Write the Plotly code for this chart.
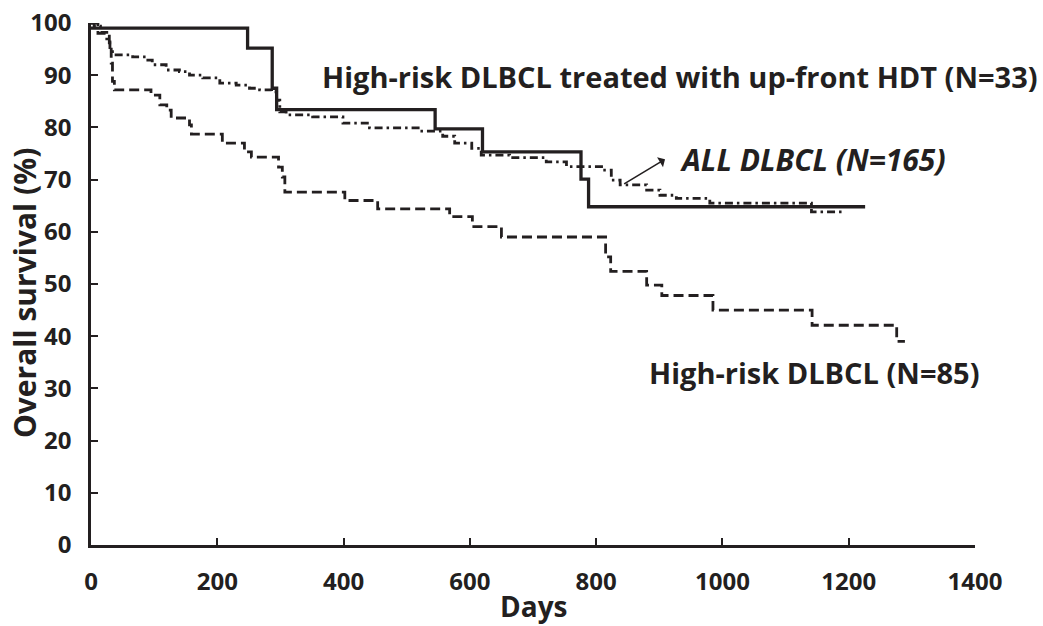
import plotly.graph_objects as go

# Kaplan-Meier step data (days, overall survival %)
hdt_days = [0, 248, 287, 294, 545, 620, 776, 788, 1226]
hdt_surv = [99.0, 95.2, 87.5, 83.4, 79.7, 75.3, 70.1, 64.8, 64.8]

high_days = [0, 11, 29, 32, 34, 37, 95, 109, 120, 127, 156, 159, 208, 243, 254,
             297, 303, 307, 402, 454, 568, 604, 650, 815, 823, 880, 904, 985,
             1142, 1276, 1289]
high_surv = [100, 98.0, 96.2, 92.3, 88.8, 87.2, 86.2, 84.3, 83.3, 81.8, 80.5, 78.7,
             77.0, 75.3, 74.3, 72.4, 70.5, 67.6, 66.0, 64.4, 62.9, 61.0, 59.0,
             55.2, 52.4, 49.8, 47.8, 45.0, 42.1, 39.0, 39.0]

all_days = [0, 5, 15, 25, 30, 34, 66, 87, 97, 119, 140, 156, 177, 204, 230, 251,
            267, 286, 294, 299, 309, 351, 399, 441, 521, 557, 576, 603, 618, 663,
            721, 753, 811, 824, 838, 880, 901, 927, 980, 1141, 1189]
all_surv = [100, 99.4, 98.2, 96.4, 94.5, 93.9, 93.5, 92.9, 92.0, 91.0, 90.7, 90.0,
            89.5, 88.5, 88.1, 87.5, 87.2, 86.8, 85.2, 83.0, 82.4, 82.0, 80.8, 79.9,
            79.3, 78.3, 77.0, 76.0, 74.7, 74.2, 73.4, 72.5, 71.8, 69.9, 69.0, 68.0,
            67.0, 66.4, 65.5, 63.8, 63.8]

x_ticks = [0, 200, 400, 600, 800, 1000, 1200, 1400]
y_ticks = [0, 10, 20, 30, 40, 50, 60, 70, 80, 90, 100]

INK = "#231f20"
FONT = "Open Sans"

fig = go.Figure()
fig.add_trace(go.Scatter(x=high_days, y=high_surv, mode="lines", line_shape="hv",
                         line=dict(color=INK, width=2.8, dash="10px,5px")))
fig.add_trace(go.Scatter(x=all_days, y=all_surv, mode="lines", line_shape="hv",
                         line=dict(color=INK, width=2.8, dash="8px,4px,2.5px,4px")))
fig.add_trace(go.Scatter(x=hdt_days, y=hdt_surv, mode="lines", line_shape="hv",
                         line=dict(color=INK, width=3.3)))

axis_common = dict(showline=True, linecolor=INK, linewidth=2.6, ticks="inside",
                   ticklen=7, tickwidth=1.5, tickcolor=INK, showgrid=False,
                   zeroline=False, mirror=False, automargin=False,
                   tickfont=dict(family=FONT, size=24, color=INK, weight="bold"))

fig.update_xaxes(range=[0, 1400], tickvals=x_ticks, ticklabelstandoff=13, **axis_common)
fig.update_yaxes(range=[0, 100], tickvals=y_ticks, ticklabelstandoff=12, **axis_common)

fig.add_annotation(x=362, y=89.7, xref="x", yref="y", xanchor="left", yanchor="middle",
                   text="High-risk DLBCL treated with up-front HDT (N=33)",
                   showarrow=False,
                   font=dict(family=FONT, size=29, color=INK, weight="bold"))
fig.add_annotation(x=929, y=73.9, xref="x", yref="y", xanchor="left", yanchor="middle",
                   text="<i>ALL DLBCL (N=165)</i>", showarrow=False,
                   font=dict(family=FONT, size=30, color=INK, weight="bold"))
fig.add_annotation(x=880, y=33.0, xref="x", yref="y", xanchor="left", yanchor="middle",
                   text="High-risk DLBCL (N=85)", showarrow=False,
                   font=dict(family=FONT, size=29, color=INK, weight="bold"))
# pointer from the ALL DLBCL curve to its label
fig.add_annotation(x=909, y=73.9, ax=842, ay=69.0, xref="x", yref="y",
                   axref="x", ayref="y", text="", showarrow=True,
                   arrowhead=1, arrowsize=1.2, arrowwidth=1.6, arrowcolor=INK)

fig.add_annotation(x=0.5, y=-0.116, xref="paper", yref="paper", text="Days",
                   showarrow=False, xanchor="center", yanchor="middle",
                   font=dict(family=FONT, size=28, color=INK, weight="bold"))
fig.add_annotation(x=-0.075, y=0.482, xref="paper", yref="paper",
                   text="Overall survival (%)", textangle=-90, showarrow=False,
                   xanchor="center", yanchor="middle",
                   font=dict(family=FONT, size=30, color=INK, weight="bold"))

fig.update_layout(width=1043, height=626, showlegend=False,
                  margin=dict(l=91, r=68, t=23, b=81),
                  paper_bgcolor="white", plot_bgcolor="white")

fig.write_html("out.html")
